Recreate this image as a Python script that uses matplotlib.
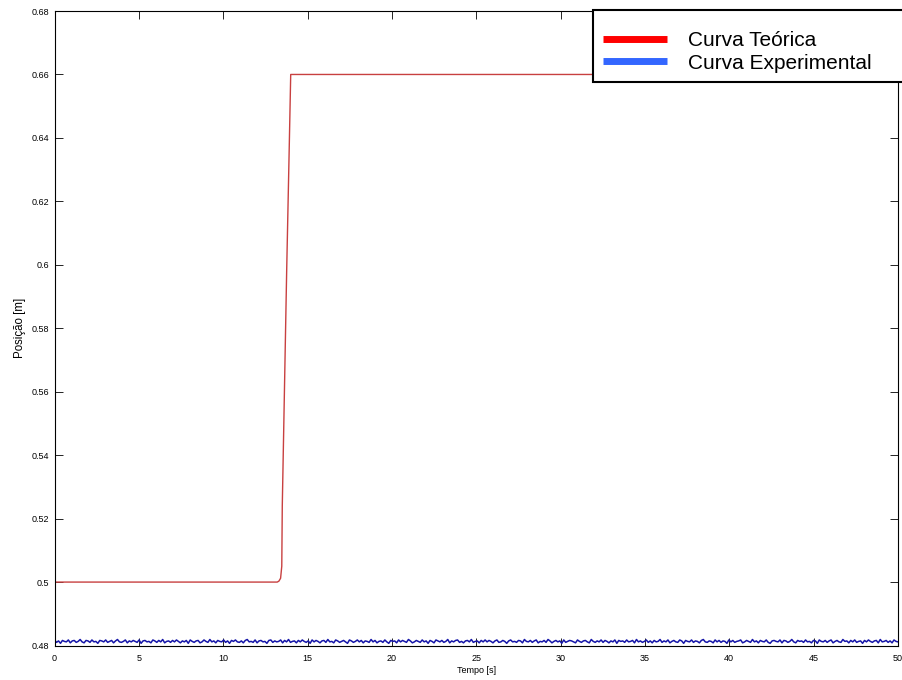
import numpy as np
import matplotlib
matplotlib.use("Agg")
import matplotlib.pyplot as plt
from matplotlib.lines import Line2D
from matplotlib.patches import Rectangle

# curva teorica
t_teo = [0, 13.2, 13.3, 13.4, 13.47, 13.5, 13.76, 13.92, 14.0, 50]
y_teo = [0.5, 0.5, 0.5003, 0.5012, 0.505, 0.524, 0.598, 0.639, 0.66, 0.66]

# curva experimental: nivel medio + ruido (em unidades de 1e-4 m)
y_exp_base = 0.4813
ruido_exp = [3, -2, 1, -4, 2, 0, -1, 3, -3, 1, 2, -2, 0, 4, -1, -3, 2, 1, -2, 3,
             -1, 0, -4, 2, 1, -1, 3, -2, 0, 2, -3, 1, 4, -1, -2, 0, 3, -3, 1, -1,
             2, 0, -2, 3, -4, 1, 2, -1, 0, -3, 3, 1, -2, 2, -1, 4, -3, 0, 1, -2,
             2, -1, 3, 0, -3, 1, -1, 2, -4, 3, 0, -2, 1, 2, -3, -1, 3, 0, -2, 4,
             -1, 1, -3, 2, 0, -1, 3, -2, 1, -4, 2, 0, 3, -1, -2, 1, -3, 2, 4, -1,
             0, -2, 3, -3, 1, 2, -1, 0, -4, 2, 3, -2, 1, -1, 0, 3, -3, 2, -1, 4,
             -2, 0, 1, -3, 2, -1, 3, 0, -2, 1, -4, 3, -1, 2, 0, -3, 1, 2, -2, 4,
             -1, 0, -3, 3, 1, -2, 0, 2, -1, -4, 3, 1, -2, 0, 3, -1, 2, -3, 1, 0,
             -2, 4, -1, 2, -3, 0, 1, -2, 3, -1, -4, 2, 0, 1, -3, 3, -1, 2, 0, -2,
             4, 1, -3, -1, 2, 0, -2, 3, -1, 1, -4, 2, 0, -3, 3, 1, -1, 2, -2, 0,
             4, -3, 1, -1, 2, 3, -2, 0, -3, 1, 2, -1, 4, -2, 0, 1, -3, 2, -1, 3,
             -1, 2, 0, -3, 1, 3, -2, -1, 2, 0, -4, 1, 3, -1, 0, -2, 2, 1, -3, 4,
             0, -1, 2, -2, 1, 3, -3, 0, -1, 2, -2, 4, 1, -3, 0, 2, -1, 1, -4, 3,
             -2, 0, 2, 1, -1, -3, 3, 0, -2, 1, 2, -1, -3, 4, 0, -2, 1, -1, 3, -2,
             2, 0, -3, 1, -1, 3, -4, 2, 0, 1, -2, 3, -1, 0, 2, -3, 4, -1, 1, -2,
             0, 3, -2, 1, -3, 2, -1, 0, 4, -2, 1, -1, 3, -3, 0, 2, -1, -2, 3, 1,
             -4, 2, 0, -1, 3, -2, 1, 0, -3, 2, 4, -1, -2, 1, 0, -3, 3, -1, 2, -2,
             1, 0, -4, 3, -1, 2, -2, 0, 1, 3, -3, -1, 2, 0, -2, 4, -1, 1, -3, 2,
             0, -1, 3, -2, -4, 1, 2, 0, -1, 3, -3, 2, 1, -2, 0, 4, -1, -3, 2, 0,
             1, -2, 3, -1, 0, -3, 2, 1, -4, 3, 0, -1, 2, -2, 1, 3, -3, 0, 2, -1,
             -2, 4, 0, 1, -3, 2, -1, 3, -2, 0, 1, -4, 2, -1, 3, 0, -2, 1, 2, -3,
             4, -1, 0, 2, -2, 1, -3, 3, 0, -1]

legenda = ["Curva Teórica", "Curva Experimental"]

plt.rcParams["font.family"] = ["Liberation Sans", "DejaVu Sans"]

t_exp = np.linspace(0, 50, len(ruido_exp))
y_exp = y_exp_base + np.array(ruido_exp) * 1.5e-4

fig = plt.figure(figsize=(9.02, 6.80), dpi=100)
ax = fig.add_axes([0.0605, 0.0507, 0.935, 0.9331])

ax.plot(t_teo, y_teo, color="#c84040", linewidth=1.0)
ax.plot(t_exp, y_exp, color="#1515a8", linewidth=1.1)

ax.set_xlim(0, 50)
ax.set_ylim(0.48, 0.68)
ax.set_xticks(np.arange(0, 51, 5))
ax.set_yticks(np.arange(0.48, 0.681, 0.02))
ax.set_xticklabels([str(v) for v in range(0, 51, 5)])
ax.set_yticklabels(["0.48", "0.5", "0.52", "0.54", "0.56", "0.58", "0.6",
                    "0.62", "0.64", "0.66", "0.68"])
ax.tick_params(direction="in", length=6, width=0.6, labelsize=6.5,
               top=True, right=True, pad=4, colors="black")
ax.tick_params(axis="x", pad=6)
for s in ax.spines.values():
    s.set_linewidth(0.8)

ax.set_xlabel("Tempo [s]", fontsize=6.5, labelpad=2)
ax.set_ylabel("Posição [m]", fontsize=8.3, labelpad=4)

# caixa da legenda (passa da borda direita da figura, como no original)
caixa = Rectangle((593 / 902, 1 - 82 / 680), 330 / 902, 72 / 680,
                  transform=fig.transFigure, facecolor="white",
                  edgecolor="black", linewidth=1.5, zorder=9)
fig.patches.append(caixa)

handles = [Line2D([], [], color="#ff0000", linewidth=5, solid_capstyle="butt"),
           Line2D([], [], color="#3366ff", linewidth=5, solid_capstyle="butt")]
leg = fig.legend(handles, legenda, loc="upper left",
                 bbox_to_anchor=(593 / 902, 1 - 21 / 680),
                 fontsize=15, frameon=False,
                 handlelength=3.08, handletextpad=1.0, borderpad=0.48,
                 labelspacing=0.18, borderaxespad=0)
leg.set_zorder(10)

fig.savefig("out.png", dpi=100)
